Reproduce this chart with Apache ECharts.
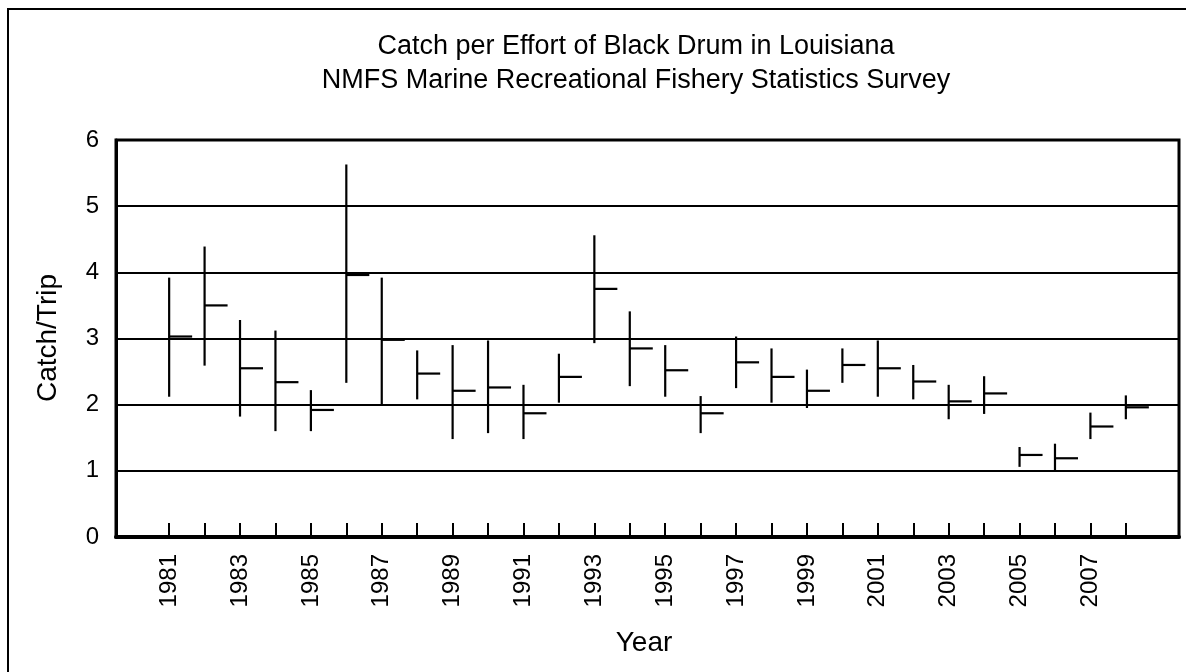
<!DOCTYPE html>
<html>
<head>
<meta charset="utf-8">
<script src="https://cdn.jsdelivr.net/npm/echarts@6/dist/echarts.min.js"></script>
<style>
html,body{margin:0;padding:0;background:#fff;}
#chart{width:1186px;height:672px;}
</style>
</head>
<body>
<div id="chart"></div>
<script>
const axisYears = ['1980','1981','1982','1983','1984','1985','1986','1987','1988','1989','1990','1991','1992','1993','1994','1995','1996','1997','1998','1999','2000','2001','2002','2003','2004','2005','2006','2007','2008','2009'];
const years = ['1981','1982','1983','1984','1985','1986','1987','1988','1989','1990','1991','1992','1993','1994','1995','1996','1997','1998','1999','2000','2001','2002','2003','2004','2005','2006','2007','2008'];
const highVals = [3.92,4.39,3.28,3.12,2.22,5.63,3.92,2.82,2.90,2.97,2.30,2.77,4.56,3.41,2.90,2.13,3.03,2.85,2.53,2.85,2.97,2.60,2.30,2.43,1.36,1.41,1.88,2.14];
const lowVals = [2.12,2.59,1.82,1.60,1.60,2.33,2.00,2.08,1.48,1.57,1.48,2.03,2.93,2.28,2.12,1.57,2.25,2.03,1.95,2.33,2.12,2.08,1.78,1.86,1.06,1.01,1.48,1.78];
const meanVals = [3.03,3.50,2.55,2.34,1.92,3.96,2.98,2.47,2.21,2.26,1.87,2.42,3.75,2.85,2.52,1.87,2.64,2.42,2.21,2.60,2.55,2.35,2.05,2.17,1.24,1.19,1.67,1.96];
const yTicks = [0,1,2,3,4,5,6];

const titleLine1 = 'Catch per Effort of Black Drum in Louisiana';
const titleLine2 = 'NMFS Marine Recreational Fishery Statistics Survey';
const xName = 'Year';
const yName = 'Catch/Trip';

const seriesData = years.map((y, i) => [y, lowVals[i], highVals[i], meanVals[i]]);
const FONT = '"Liberation Sans", Arial, sans-serif';

const chart = echarts.init(document.getElementById('chart'), null, {renderer: 'canvas'});
chart.setOption({
  backgroundColor: '#fff',
  animation: false,
  graphic: [
    {type: 'rect', shape: {x: 8, y: 9, width: 1200, height: 700}, style: {fill: 'none', stroke: '#000', lineWidth: 2}, silent: true},
    {type: 'text', style: {x: 636, y: 47, text: titleLine1, align: 'center', verticalAlign: 'middle', font: '27px ' + FONT, fill: '#000'}},
    {type: 'text', style: {x: 636, y: 81, text: titleLine2, align: 'center', verticalAlign: 'middle', font: '27px ' + FONT, fill: '#000'}},
    {type: 'text', style: {x: 644, y: 643, text: xName, align: 'center', verticalAlign: 'middle', font: '28px ' + FONT, fill: '#000'}},
    {type: 'text', x: 48, y: 338, rotation: Math.PI / 2, style: {x: 0, y: 0, text: yName, align: 'center', verticalAlign: 'middle', font: '28px ' + FONT, fill: '#000'}}
  ],
  grid: {left: 116, right: 7, top: 140, bottom: 135, show: true, borderColor: '#000', borderWidth: 3, backgroundColor: 'transparent'},
  xAxis: {
    type: 'category',
    data: axisYears,
    boundaryGap: true,
    axisLine: {lineStyle: {color: '#000', width: 4}},
    axisTick: {
      show: true, inside: true, length: 14, alignWithLabel: true,
      interval: (idx, val) => Number(val) >= 1981 && Number(val) <= 2008,
      lineStyle: {color: '#000', width: 2}
    },
    axisLabel: {
      rotate: 90, margin: 17, fontSize: 24, fontFamily: FONT, color: '#000',
      interval: (idx, val) => { const n = Number(val); return n >= 1981 && n <= 2007 && n % 2 === 1; }
    },
    splitLine: {show: false}
  },
  yAxis: {
    type: 'value',
    min: yTicks[0], max: yTicks[yTicks.length - 1], interval: 1,
    axisLine: {show: true, lineStyle: {color: '#000', width: 3}},
    axisTick: {show: false},
    axisLabel: {margin: 17, fontSize: 24, fontFamily: FONT, color: '#000'},
    splitLine: {show: true, lineStyle: {color: '#000', width: 2}}
  },
  series: [{
    type: 'custom',
    data: seriesData,
    encode: {x: 0, y: [1, 2, 3]},
    renderItem: function (params, api) {
      const xi = api.value(0);
      const lo = api.coord([xi, api.value(1)]);
      const hi = api.coord([xi, api.value(2)]);
      const mid = api.coord([xi, api.value(3)]);
      const st = {stroke: '#000', lineWidth: 2.2};
      return {
        type: 'group',
        children: [
          {type: 'line', shape: {x1: lo[0], y1: lo[1], x2: hi[0], y2: hi[1]}, style: st},
          {type: 'line', shape: {x1: mid[0], y1: mid[1], x2: mid[0] + 23, y2: mid[1]}, style: st}
        ]
      };
    },
    z: 5
  }]
});
</script>
</body>
</html>
